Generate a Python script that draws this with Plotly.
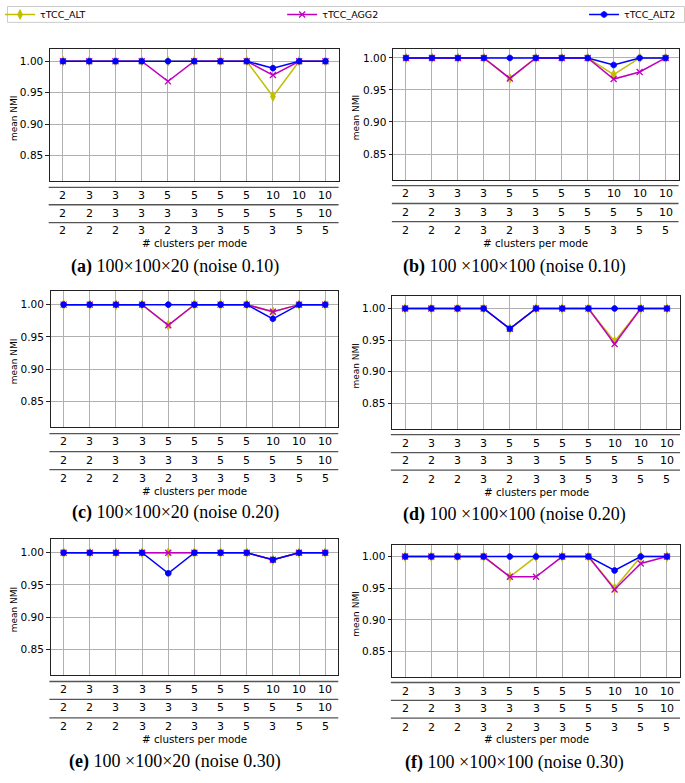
import plotly.graph_objects as go

# ---------------- data ----------------
x_idx = list(range(11))
row1 = ["2", "3", "3", "3", "5", "5", "5", "5", "10", "10", "10"]
row2 = ["2", "2", "3", "3", "3", "3", "5", "5", "5", "5", "10"]
row3 = ["2", "2", "2", "3", "2", "3", "3", "5", "3", "5", "5"]

series_names = ["τTCC_ALT", "τTCC_AGG2", "τTCC_ALT2"]

alt_a = [1.0, 1.0, 1.0, 1.0, 1.0, 1.0, 1.0, 1.0, 0.944, 1.0, 1.0]
agg2_a = [1.0, 1.0, 1.0, 1.0, 0.968, 1.0, 1.0, 1.0, 0.978, 1.0, 1.0]
alt2_a = [1.0, 1.0, 1.0, 1.0, 1.0, 1.0, 1.0, 1.0, 0.989, 1.0, 1.0]

alt_b = [1.0, 1.0, 1.0, 1.0, 0.968, 1.0, 1.0, 1.0, 0.974, 1.0, 1.0]
agg2_b = [1.0, 1.0, 1.0, 1.0, 0.968, 1.0, 1.0, 1.0, 0.967, 0.978, 1.0]
alt2_b = [1.0, 1.0, 1.0, 1.0, 1.0, 1.0, 1.0, 1.0, 0.989, 1.0, 1.0]

alt_c = [1.0, 1.0, 1.0, 1.0, 0.968, 1.0, 1.0, 1.0, 0.989, 1.0, 1.0]
agg2_c = [1.0, 1.0, 1.0, 1.0, 0.968, 1.0, 1.0, 1.0, 0.989, 1.0, 1.0]
alt2_c = [1.0, 1.0, 1.0, 1.0, 1.0, 1.0, 1.0, 1.0, 0.978, 1.0, 1.0]

alt_d = [1.0, 1.0, 1.0, 1.0, 0.968, 1.0, 1.0, 1.0, 0.948, 1.0, 1.0]
agg2_d = [1.0, 1.0, 1.0, 1.0, 0.968, 1.0, 1.0, 1.0, 0.944, 1.0, 1.0]
alt2_d = [1.0, 1.0, 1.0, 1.0, 0.968, 1.0, 1.0, 1.0, 1.0, 1.0, 1.0]

alt_e = [1.0, 1.0, 1.0, 1.0, 1.0, 1.0, 1.0, 1.0, 0.989, 1.0, 1.0]
agg2_e = [1.0, 1.0, 1.0, 1.0, 1.0, 1.0, 1.0, 1.0, 0.989, 1.0, 1.0]
alt2_e = [1.0, 1.0, 1.0, 1.0, 0.968, 1.0, 1.0, 1.0, 0.989, 1.0, 1.0]

alt_f = [1.0, 1.0, 1.0, 1.0, 0.968, 1.0, 1.0, 1.0, 0.950, 1.0, 1.0]
agg2_f = [1.0, 1.0, 1.0, 1.0, 0.968, 0.968, 1.0, 1.0, 0.948, 0.989, 1.0]
alt2_f = [1.0, 1.0, 1.0, 1.0, 1.0, 1.0, 1.0, 1.0, 0.978, 1.0, 1.0]

y_ticks = [0.85, 0.90, 0.95, 1.00]
y_tick_text = ["0.85", "0.90", "0.95", "1.00"]

captions = [
    ("(a)", "100×100×20 (noise 0.10)"),
    ("(b)", "100 ×100×100 (noise 0.10)"),
    ("(c)", "100×100×20 (noise 0.20)"),
    ("(d)", "100 ×100×100 (noise 0.20)"),
    ("(e)", "100 ×100×20 (noise 0.30)"),
    ("(f)", "100 ×100×100 (noise 0.30)"),
]
panel_data = [
    (alt_a, agg2_a, alt2_a),
    (alt_b, agg2_b, alt2_b),
    (alt_c, agg2_c, alt2_c),
    (alt_d, agg2_d, alt2_d),
    (alt_e, agg2_e, alt2_e),
    (alt_f, agg2_f, alt2_f),
]

# ---------------- layout geometry (pixels) ----------------
W, H = 685, 783


def px(v):
    return v / W


def py(v):
    return 1 - v / H


geo = [
    dict(l=43.3, r=335.0, t=43.3, b=176.0, ytop=1.0195, seps=(182.7, 200.3, 218.3),
         rows=(191.3, 209.0, 226.7), title=239.3, ylab=(7, 113), cap=(170, 262.3)),
    dict(l=390.0, r=678.5, t=43.3, b=175.0, ytop=1.014, seps=(181.0, 199.0, 217.3),
         rows=(189.3, 207.7, 226.0), title=239.3, ylab=(353, 111.8), cap=(513, 262.3)),
    dict(l=44.0, r=334.7, t=287.3, b=424.3, ytop=1.021, seps=(431.0, 449.0, 467.3),
         rows=(439.3, 457.7, 476.0), title=489.0, ylab=(7, 358), cap=(170, 510.0)),
    dict(l=389.0, r=680.0, t=292.7, b=426.0, ytop=1.019, seps=(432.0, 450.0, 467.7),
         rows=(440.7, 458.3, 476.7), title=489.3, ylab=(353, 362), cap=(513, 512.3)),
    dict(l=44.0, r=334.7, t=537.3, b=674.3, ytop=1.021, seps=(680.7, 698.7, 717.3),
         rows=(689.0, 707.3, 726.0), title=738.7, ylab=(7, 608), cap=(170, 761.0)),
    dict(l=389.0, r=680.0, t=542.7, b=676.0, ytop=1.019, seps=(681.7, 699.7, 717.7),
         rows=(690.3, 708.3, 726.7), title=739.0, ylab=(353, 612), cap=(513, 762.3)),
]

colors = ["#BFBF00", "#BF00BF", "#0000FF"]
symbols = ["diamond-tall", "x-thin", "octagon"]
msizes = [7, 6, 6]
legend_ids = ["legend", "legend2", "legend3"]

fig = go.Figure()
annotations = []
shapes = []
layout_axes = {}

for i, (g, data) in enumerate(zip(geo, panel_data)):
    n = "" if i == 0 else str(i + 1)
    xref = "x" + n
    yref = "y" + n
    for k in range(3):
        mk = dict(symbol=symbols[k], size=msizes[k], color=colors[k])
        if symbols[k] == "x-thin":
            mk["line"] = dict(color=colors[k], width=1.3)
        else:
            mk["line"] = dict(color=colors[k], width=0.8)
        fig.add_trace(go.Scatter(
            x=x_idx, y=data[k], mode="lines+markers", name=series_names[k],
            line=dict(color=colors[k], width=1.5), marker=mk,
            xaxis=xref, yaxis=yref,
            showlegend=(i == 0), legend=legend_ids[k],
        ))
    layout_axes["xaxis" + n] = dict(
        domain=[px(g["l"]), px(g["r"])], anchor=yref, range=[-0.5, 10.5],
        tickvals=x_idx, showticklabels=False, ticks="",
        showgrid=True, gridcolor="#b0b0b0", gridwidth=1, zeroline=False,
        showline=True, mirror=True, linecolor="#222222", linewidth=1,
    )
    layout_axes["yaxis" + n] = dict(
        domain=[py(g["b"]), py(g["t"])], anchor=xref, range=[0.81, g["ytop"]],
        tickvals=y_ticks, ticktext=y_tick_text, ticks="outside", ticklen=3.5,
        tickcolor="#222222", tickwidth=1,
        tickfont=dict(family="DejaVu Sans", size=10.5, color="#000000"),
        showgrid=True, gridcolor="#b0b0b0", gridwidth=1, zeroline=False,
        showline=True, mirror=True, linecolor="#222222", linewidth=1,
    )
    for s in g["seps"]:
        shapes.append(dict(type="line", xref=xref + " domain", yref="paper",
                           x0=-0.004, x1=1.0, y0=py(s), y1=py(s),
                           line=dict(color="#555555", width=1.3)))
    for rowvals, ry in zip((row1, row2, row3), g["rows"]):
        for xi, lab in zip(x_idx, rowvals):
            annotations.append(dict(x=xi, y=py(ry), xref=xref, yref="paper",
                                    text=lab, showarrow=False, xanchor="center",
                                    yanchor="middle",
                                    font=dict(family="DejaVu Sans", size=11, color="#000000")))
    annotations.append(dict(x=0.5, y=py(g["title"]), xref=xref + " domain", yref="paper",
                            text="# clusters per mode", showarrow=False,
                            xanchor="center", yanchor="middle",
                            font=dict(family="DejaVu Sans", size=10.3, color="#000000")))
    annotations.append(dict(x=px(g["ylab"][0]), y=py(g["ylab"][1]), xref="paper", yref="paper",
                            text="mean NMI", showarrow=False, textangle=-90,
                            xanchor="center", yanchor="middle",
                            font=dict(family="DejaVu Sans", size=9, color="#000000")))
    lab, rest = captions[i]
    annotations.append(dict(x=px(g["cap"][0]), y=py(g["cap"][1]), xref="paper", yref="paper",
                            text="<b>" + lab + "</b> " + rest, showarrow=False,
                            xanchor="center", yanchor="middle",
                            font=dict(family="Liberation Serif", size=18, color="#000000")))

shapes.append(dict(type="rect", xref="paper", yref="paper",
                   x0=px(0.5), x1=px(684.5), y0=py(16.5), y1=py(0.5),
                   line=dict(color="#cccccc", width=1), fillcolor="rgba(255,255,255,0)"))

legend_common = dict(orientation="h", yanchor="middle", xanchor="left",
                     bgcolor="rgba(0,0,0,0)", borderwidth=0, itemwidth=30,
                     font=dict(family="DejaVu Sans", size=9.5, color="#000000"))
legend_x = [-7, 278, 583]

fig.update_layout(
    width=W, height=H,
    margin=dict(l=0, r=0, t=0, b=0),
    paper_bgcolor="white", plot_bgcolor="white",
    annotations=annotations, shapes=shapes,
    legend=dict(x=px(legend_x[0]), y=py(8.5), **legend_common),
    legend2=dict(x=px(legend_x[1]), y=py(8.5), **legend_common),
    legend3=dict(x=px(legend_x[2]), y=py(8.5), **legend_common),
    **layout_axes,
)

fig.write_html("out.html", config={"displayModeBar": False},
               post_script="document.body.style.margin='0';document.body.style.overflow='hidden';")
